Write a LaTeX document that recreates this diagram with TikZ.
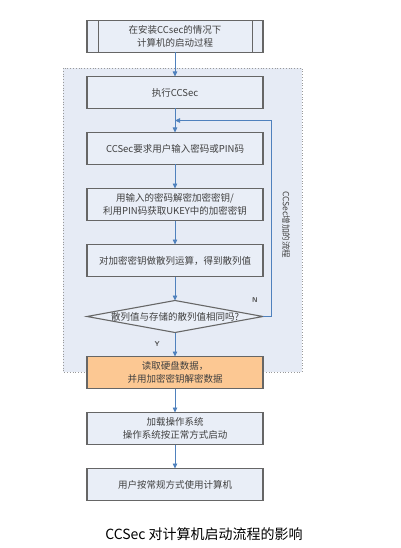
\documentclass[tikz,border=0pt]{standalone}
\usepackage{fontspec}
\newfontfamily\cjk{Noto Sans CJK SC}
\usetikzlibrary{arrows.meta, positioning, shapes.geometric, calc}
\definecolor{panel}{HTML}{E6EBF5}
\definecolor{boxfill}{HTML}{E9EEF7}
\definecolor{hot}{HTML}{FCC893}
\definecolor{flow}{HTML}{4F81BD}
\begin{document}
\begin{tikzpicture}[x=1pt, y=1pt,
	step box/.style={rectangle, draw=black!60, line width=1.1pt, fill=boxfill, minimum width=176pt, minimum height=32pt, inner sep=0pt, outer sep=0pt, align=center, font=\cjk\fontsize{9.5}{12.5}\selectfont, text=black!75},
	decision/.style={diamond, draw=black!60, line width=1.1pt, fill=boxfill, minimum width=176pt, minimum height=32pt, inner sep=0pt, outer sep=0pt, font=\cjk\fontsize{9.5}{12}\selectfont, text=black!75},
	tag/.style={font=\sffamily\bfseries\scriptsize, text=black!70, inner sep=1pt},
	flow/.style={draw=flow, line width=0.8pt, -{Triangle[length=5pt, width=4.5pt]}},
	every node/.style={font=\cjk}, >=Stealth]
	\useasboundingbox (0,0) rectangle (400,-548);

	% Panel of added steps
	\draw[black!40, dotted, line width=0.8pt, fill=panel] (63,-68) rectangle (302,-372);

	% Nodes
	\node[step box] (start) at (175,-36.5) {在安装CCsec的情况下\\计算机的启动过程};
	\draw[black!60, line width=0.8pt] ([xshift=11pt]start.north west) -- ([xshift=11pt]start.south west)
		([xshift=-11pt]start.north east) -- ([xshift=-11pt]start.south east);
	\node[step box, below=24pt of start] (run) {执行CCSec};
	\node[step box, below=24pt of run] (ask) {CCSec要求用户输入密码或PIN码};
	\node[step box, below=24pt of ask] (key) {用输入的密码解密加密密钥/\\利用PIN码获取UKEY中的加密密钥};
	\node[step box, below=24pt of key] (hash) {对加密密钥做散列运算，得到散列值};
	\node[decision, below=24pt of hash] (same) {\makebox[0pt]{散列值与存储的散列值相同吗?}};
	\node[step box, fill=hot, below=24pt of same] (read) {读取硬盘数据，\\并用加密密钥解密数据};
	\node[step box, below=24pt of read] (os) {加载操作系统\\操作系统按正常方式启动};
	\node[step box, below=24pt of os] (use) {用户按常规方式使用计算机};

	% Side label and caption
	\node[rotate=-90, font=\cjk\fontsize{8.5}{10}\selectfont, text=black!75] (added) at (286,-225) {CCSec增加的流程};
	\node[font=\cjk\fontsize{14}{16}\selectfont] (caption) at (204,-534) {CCSec 对计算机启动流程的影响};

	% Down arrows
	\draw[flow] (start) -- (run);
	\draw[flow] (run) -- (ask);
	\draw[flow] (ask) -- (key);
	\draw[flow] (key) -- (hash);
	\draw[flow] (hash) -- (same);
	\draw[flow] (same) -- (read);
	\draw[flow] (read) -- (os);
	\draw[flow] (os) -- (use);
	\node[tag, below left=8pt and 14pt of same.south] (yes) {Y};

	% Loop back
	\coordinate (back) at ($(run.south)!0.5!(ask.north)$);
	\draw[flow] (same.east) -- ++(8,0) |- (back);
	\node[tag, above left=13pt and 4pt of same.east] (no) {N};
\end{tikzpicture}
\end{document}
